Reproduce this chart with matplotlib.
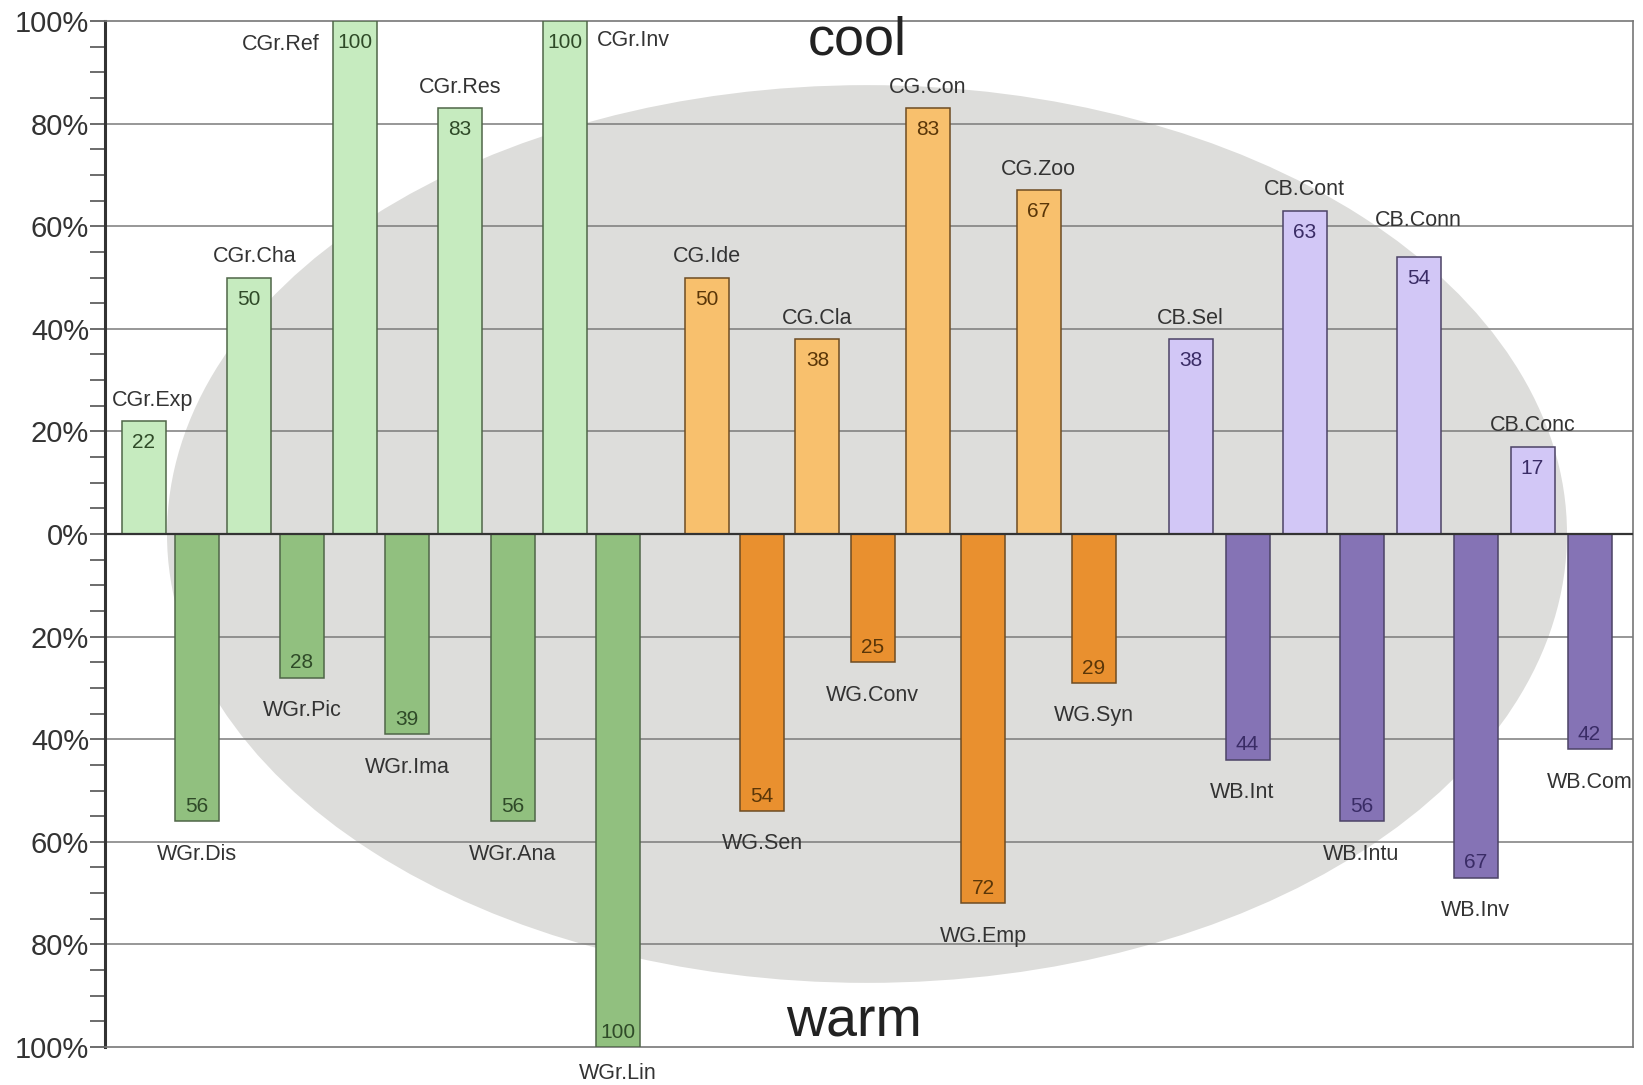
import matplotlib.pyplot as plt
from matplotlib.patches import Ellipse

plt.rcParams['font.family'] = ['Liberation Sans', 'DejaVu Sans']

# three groups: grades (green), genders (orange), ... (purple)
green_cool_names = ["CGr.Exp", "CGr.Cha", "CGr.Ref", "CGr.Res", "CGr.Inv"]
green_cool = [22, 50, 100, 83, 100]
green_warm_names = ["WGr.Dis", "WGr.Pic", "WGr.Ima", "WGr.Ana", "WGr.Lin"]
green_warm = [56, 28, 39, 56, 100]

orange_cool_names = ["CG.Ide", "CG.Cla", "CG.Con", "CG.Zoo"]
orange_cool = [50, 38, 83, 67]
orange_warm_names = ["WG.Sen", "WG.Conv", "WG.Emp", "WG.Syn"]
orange_warm = [54, 25, 72, 29]

purple_cool_names = ["CB.Sel", "CB.Cont", "CB.Conn", "CB.Conc"]
purple_cool = [38, 63, 54, 17]
purple_warm_names = ["WB.Int", "WB.Intu", "WB.Inv", "WB.Com"]
purple_warm = [44, 56, 67, 42]

yticks = [-100, -80, -60, -40, -20, 0, 20, 40, 60, 80, 100]
ytick_labels = ["100%", "80%", "60%", "40%", "20%", "0%", "20%", "40%", "60%", "80%", "100%"]

# layout: (start x, step) in pixel-like units, colours per group
groups = [
    (green_cool_names, green_cool, green_warm_names, green_warm,
     143.8, 52.7, "#c6ebbf", "#91c07f", "#4f6648", "#2f4a28"),
    (orange_cool_names, orange_cool, orange_warm_names, orange_warm,
     706.8, 55.3, "#f8c06d", "#e9902f", "#6e4c22", "#5a3608"),
    (purple_cool_names, purple_cool, purple_warm_names, purple_warm,
     1190.5, 57.0, "#d2c7f6", "#8573b5", "#4c4366", "#3a2c66"),
]
bar_w = 44
txt = "#333333"
name_fs = 15.5
num_fs = 15
side_labels = {"CGr.Ref": "left", "CGr.Inv": "right"}
nudge = {"CB.Conn": 3.0, "WGr.Lin": 1.3}
xnudge = {"CGr.Exp": 9, "CGr.Cha": 5, "WB.Int": -5}

fig = plt.figure(figsize=(16.43, 10.85), dpi=100)
ax = fig.add_axes([105 / 1643, 1 - 1047 / 1085, 1528 / 1643, 1026 / 1085])
ax.set_xlim(105, 1633)
ax.set_ylim(-100, 100)

ax.add_patch(Ellipse((867, 0), 1400, 175, facecolor="#dddddb", edgecolor="none", zorder=0))
for y in [-80, -60, -40, -20, 20, 40, 60, 80]:
    ax.axhline(y, color="#7a7a7a", lw=1.1, zorder=1)

for cn, cv, wn, wv, x0, step, c_col, w_col, edge, num_col in groups:
    xs_cool = [x0 + step * 2 * i for i in range(len(cv))]
    xs_warm = [x0 + step * (2 * i + 1) for i in range(len(wv))]
    ax.bar(xs_cool, cv, width=bar_w, color=c_col, edgecolor=edge, linewidth=1.1, zorder=3)
    ax.bar(xs_warm, [-v for v in wv], width=bar_w, color=w_col, edgecolor=edge, linewidth=1.1, zorder=3)
    for x, v, n in zip(xs_cool, cv, cn):
        ax.text(x, v - 5.3, str(v), ha="center", va="baseline", fontsize=num_fs, color=num_col, zorder=4)
        side = side_labels.get(n)
        if side == "left":
            ax.text(x - bar_w / 2 - 13, 94.4, n, ha="right", va="baseline", fontsize=name_fs, color=txt, zorder=4)
        elif side == "right":
            ax.text(x + bar_w / 2 + 9, 95.1, n, ha="left", va="baseline", fontsize=name_fs, color=txt, zorder=4)
        else:
            ax.text(x + xnudge.get(n, 0), v + 3.0 + nudge.get(n, 0), n, ha="center", va="baseline",
                    fontsize=name_fs, color=txt, zorder=4)
    for x, v, n in zip(xs_warm, wv, wn):
        ax.text(x, -v + 1.8, str(v), ha="center", va="baseline", fontsize=num_fs, color=num_col, zorder=4)
        ax.text(x + xnudge.get(n, 0), -v - 7.5 + nudge.get(n, 0), n, ha="center", va="baseline",
                fontsize=name_fs, color=txt, zorder=4, clip_on=False)

ax.axhline(0, color="#333333", lw=1.6, zorder=5)

ax.text(857, 93.4, "cool", ha="center", va="baseline", fontsize=39, color="#222222", zorder=4)
ax.text(854, -98, "warm", ha="center", va="baseline", fontsize=40, color="#222222", zorder=4)

ax.set_yticks(yticks)
ax.set_yticklabels(ytick_labels, fontsize=21, color=txt)
ax.set_yticks(list(range(-95, 100, 5)), minor=True)
ax.tick_params(axis="y", which="both", length=10.5, width=1.1, color="#444444", pad=1)
ax.set_xticks([])
ax.spines["left"].set_color("#333333")
ax.spines["left"].set_linewidth(2.2)
for s in ["top", "right", "bottom"]:
    ax.spines[s].set_color("#777777")
    ax.spines[s].set_linewidth(1.2)

fig.savefig("out.png", dpi=100)
